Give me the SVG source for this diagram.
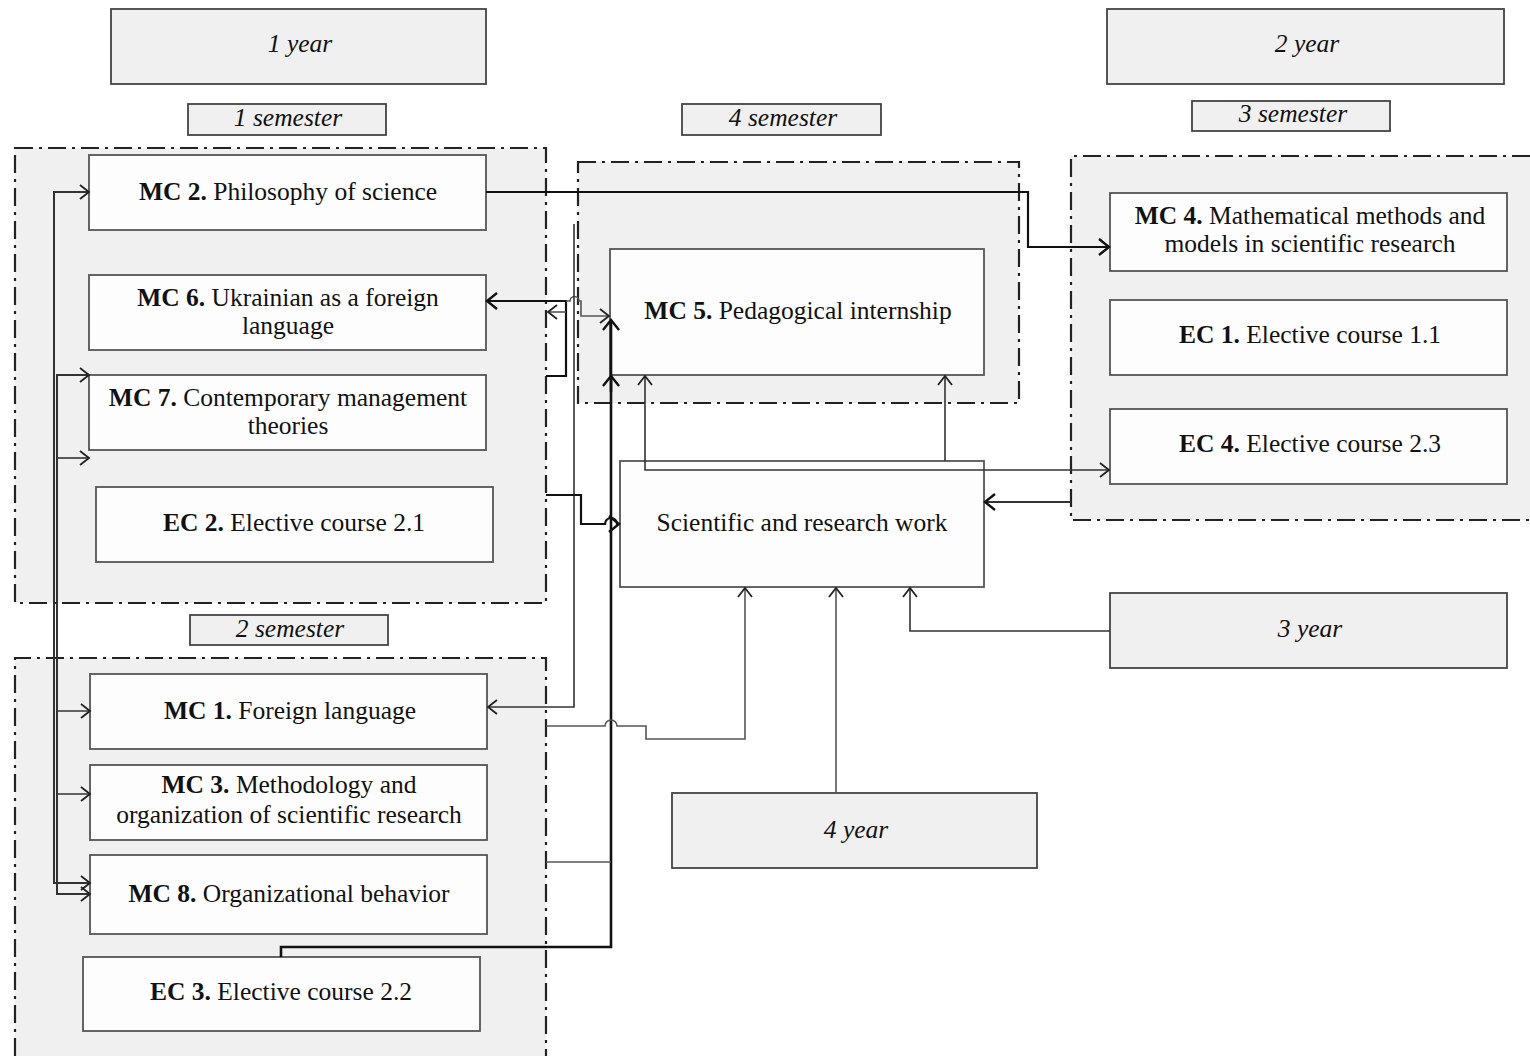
<svg xmlns="http://www.w3.org/2000/svg" width="1530" height="1056" viewBox="0 0 1530 1056">
<style>
  .bg { fill: #f0f0f0; stroke: none; }
  .dd { fill: none; stroke: #222; stroke-width: 2.2; stroke-dasharray: 18 6 3 6; }
  .hdr { fill: #f0f0f0; stroke: #444; stroke-width: 1.8; }
  .box { fill: #fdfdfd; stroke: #555; stroke-width: 1.8; }
  text { font-family: "Liberation Serif", "Times New Roman", serif; font-size: 25.5px; fill: #111; text-anchor: middle; }
  .it { font-style: italic; }
  .b { font-weight: bold; }
  .thin { fill: none; stroke: #333; stroke-width: 1.6; }
  .thick { fill: none; stroke: #111; stroke-width: 2.6; }
</style>
<defs>
  <marker id="ar" markerUnits="userSpaceOnUse" viewBox="-12 -10 14 20" refX="0" refY="0" markerWidth="14" markerHeight="20" orient="auto-start-reverse">
    <path d="M-9,-7 L0,0 L-9,7" fill="none" stroke="#222" stroke-width="1.8"/>
  </marker>
  <marker id="arb" markerUnits="userSpaceOnUse" viewBox="-12 -10 14 20" refX="0" refY="0" markerWidth="14" markerHeight="20" orient="auto-start-reverse">
    <path d="M-10,-8 L0,0 L-10,8" fill="none" stroke="#111" stroke-width="2.4"/>
  </marker>
</defs>
<rect width="1530" height="1056" fill="#ffffff"/>

<!-- semester regions -->
<g id="region-s1">
  <rect class="bg" x="15" y="148" width="531" height="455"/>
  <rect class="dd" x="15" y="148" width="531" height="455"/>
</g>
<g id="region-s2">
  <rect class="bg" x="15" y="658" width="531" height="398"/>
  <path class="dd" d="M15,1056 V658 H546 V1056"/>
</g>
<g id="region-s4">
  <rect class="bg" x="578" y="162" width="441" height="241"/>
  <rect class="dd" x="578" y="162" width="441" height="241"/>
</g>
<g id="region-s3">
  <rect class="bg" x="1071" y="156" width="459" height="364"/>
  <path class="dd" d="M1530,156 H1071 V520 H1530"/>
</g>

<!-- headers -->
<g id="year1"><rect class="hdr" x="111" y="9" width="375" height="75"/><text class="it" x="300" y="52">1 year</text></g>
<g id="year2"><rect class="hdr" x="1107" y="9" width="397" height="75"/><text class="it" x="1307" y="52">2 year</text></g>
<g id="year3"><rect class="hdr" x="1110" y="593" width="397" height="75"/><text class="it" x="1310" y="637">3 year</text></g>
<g id="year4"><rect class="hdr" x="672" y="793" width="365" height="75"/><text class="it" x="856" y="838">4 year</text></g>
<g id="sem1"><rect class="hdr" x="188" y="104" width="198" height="31"/><text class="it" x="288" y="126">1 semester</text></g>
<g id="sem4"><rect class="hdr" x="682" y="104" width="199" height="31"/><text class="it" x="783" y="126">4 semester</text></g>
<g id="sem3"><rect class="hdr" x="1192" y="101" width="198" height="30"/><text class="it" x="1293" y="122">3 semester</text></g>
<g id="sem2"><rect class="hdr" x="190" y="615" width="198" height="30"/><text class="it" x="290" y="637">2 semester</text></g>

<!-- nodes -->
<g id="mc2"><rect class="box" x="89" y="155" width="397" height="75"/><text x="288" y="200"><tspan class="b">MC 2.</tspan> Philosophy of science</text></g>
<g id="mc6"><rect class="box" x="89" y="275" width="397" height="75"/><text x="288" y="306"><tspan class="b">MC 6.</tspan> Ukrainian as a foreign</text><text x="288" y="334">language</text></g>
<g id="mc7"><rect class="box" x="89" y="375" width="397" height="75"/><text x="288" y="406"><tspan class="b">MC 7.</tspan> Contemporary management</text><text x="288" y="434">theories</text></g>
<g id="ec2"><rect class="box" x="96" y="487" width="397" height="75"/><text x="294" y="531"><tspan class="b">EC 2.</tspan> Elective course 2.1</text></g>
<g id="mc1"><rect class="box" x="90" y="674" width="397" height="75"/><text x="290" y="719"><tspan class="b">MC 1.</tspan> Foreign language</text></g>
<g id="mc3"><rect class="box" x="90" y="765" width="397" height="75"/><text x="289" y="793"><tspan class="b">MC 3.</tspan> Methodology and</text><text x="289" y="823">organization of scientific research</text></g>
<g id="mc8"><rect class="box" x="90" y="855" width="397" height="79"/><text x="289" y="902"><tspan class="b">MC 8.</tspan> Organizational behavior</text></g>
<g id="ec3"><rect class="box" x="83" y="957" width="397" height="74"/><text x="281" y="1000"><tspan class="b">EC 3.</tspan> Elective course 2.2</text></g>
<g id="mc5"><rect class="box" x="610" y="249" width="374" height="126"/><text x="798" y="319"><tspan class="b">MC 5.</tspan> Pedagogical internship</text></g>
<g id="srw"><rect class="box" x="620" y="461" width="364" height="126"/><text x="802" y="531">Scientific and research work</text></g>
<g id="mc4"><rect class="box" x="1110" y="193" width="397" height="78"/><text x="1310" y="224"><tspan class="b">MC 4.</tspan> Mathematical methods and</text><text x="1310" y="252">models in scientific research</text></g>
<g id="ec1"><rect class="box" x="1110" y="300" width="397" height="75"/><text x="1310" y="343"><tspan class="b">EC 1.</tspan> Elective course 1.1</text></g>
<g id="ec4"><rect class="box" x="1110" y="409" width="397" height="75"/><text x="1310" y="452"><tspan class="b">EC 4.</tspan> Elective course 2.3</text></g>

<!-- connectors -->
<g id="connectors">
  <!-- left bus -->
  <path class="thin" style="stroke-width:2" d="M89,192 H54 V883 H90" marker-start="url(#ar)" marker-end="url(#ar)"/>
  <path class="thin" style="stroke-width:2" d="M89,375 H57 V894 H90" marker-start="url(#ar)" marker-end="url(#ar)"/>
  <path class="thin" d="M57,458 H89" marker-end="url(#ar)"/>
  <path class="thin" d="M57,711 H90" marker-end="url(#ar)"/>
  <path class="thin" d="M57,794 H90" marker-end="url(#ar)"/>

  <!-- MC2 -> MC4 -->
  <path class="thick" style="stroke-width:2.2" d="M486,192 H1028 V247 H1109" marker-end="url(#arb)"/>

  <!-- MC6 link -->
  <path class="thick" style="stroke-width:2.2" d="M546,376 H566 V301 H487" marker-end="url(#arb)"/>
  <path class="thin" style="stroke:#555" d="M566,301 H570 a4.5,4.5 0 0 1 9,0 H581 V316 H609" marker-end="url(#ar)"/>
  <path class="thin" style="stroke:#555" d="M566,312 H548" marker-end="url(#ar)"/>

  <!-- thin vertical to MC1 -->
  <path class="thin" d="M574,224 V707 H488" marker-end="url(#ar)"/>

  <!-- EC3 -> MC5 (thick) -->
  <path class="thick" d="M281,957 V947 H611 V320" marker-end="url(#arb)"/>
  <path class="thick" d="M611,392 V376" marker-end="url(#arb)"/>

  <!-- EC2 -> SRW -->
  <path class="thick" style="stroke-width:2.2" d="M546,495 H581 V524 H605 a6,6 0 0 1 12,0 H619" marker-end="url(#arb)"/>

  <!-- 2 semester -> SRW -->
  <path class="thin" style="stroke:#555" d="M546,726 H605 a6,6 0 0 1 12,0 H646 V739 H745 V588" marker-end="url(#ar)"/>

  <!-- MC8 region line -->
  <path class="thin" style="stroke:#555" d="M546,862 H611"/>

  <!-- SRW -> MC5 and EC4 -->
  <path class="thin" d="M645,376 V470 H1109" marker-start="url(#ar)" marker-end="url(#ar)"/>
  <path class="thin" d="M945,461 V376" marker-end="url(#ar)"/>

  <!-- semester 3 -> SRW -->
  <path class="thin" style="stroke-width:2" d="M1071,502 H985" marker-end="url(#arb)"/>

  <!-- 3 year -> SRW -->
  <path class="thin" d="M1110,631 H910 V588" marker-end="url(#ar)"/>

  <!-- 4 year -> SRW -->
  <path class="thin" style="stroke:#555" d="M836,793 V588" marker-end="url(#ar)"/>
</g>
</svg>
